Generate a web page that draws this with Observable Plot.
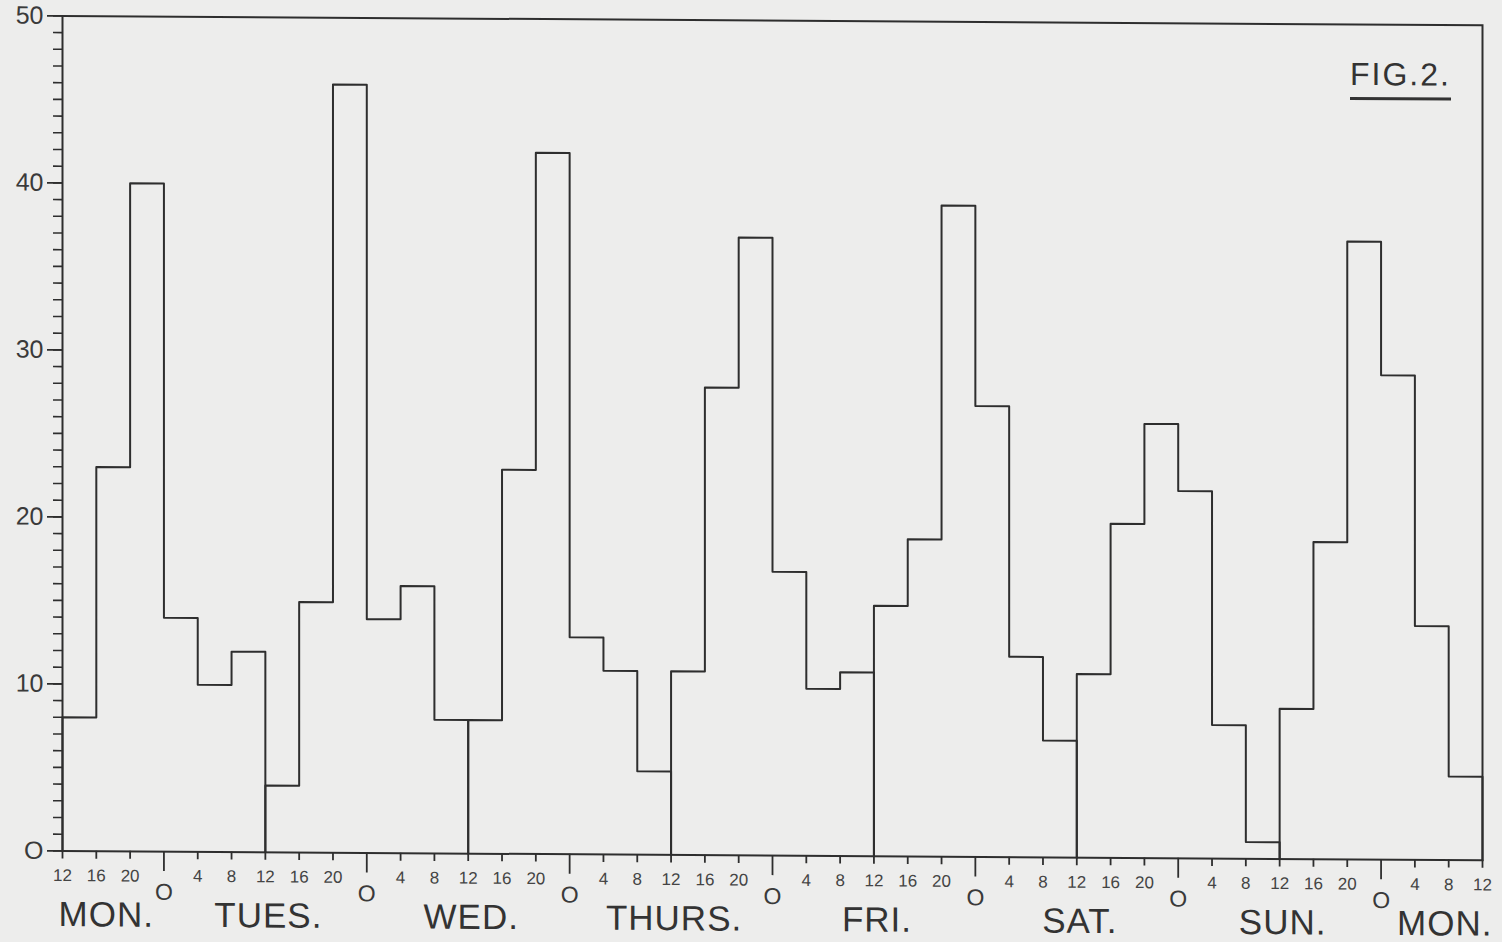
<!DOCTYPE html>
<html>
<head>
<meta charset="utf-8">
<script src="https://cdn.jsdelivr.net/npm/d3@7"></script>
<script src="https://cdn.jsdelivr.net/npm/@observablehq/plot@0.6"></script>
<style>
  html, body { margin: 0; padding: 0; background: #ededec; }
  #wrap { position: relative; width: 1502px; height: 942px; transform: skewY(0.38deg); transform-origin: 0 0; }
  #fig { position: absolute; left: 1350px; top: 48px; font-family: "Liberation Sans", Arial, sans-serif; font-size: 32px; letter-spacing: 2px; color: #333; line-height: 34px; padding-bottom: 6px; border-bottom: 3px solid #333; }
  .day text { letter-spacing: 1px; }
</style>
</head>
<body>
<div id="wrap"><div id="fig">FIG.2.</div></div>
<script>
// Values per 4-hour period, week starting Monday noon
const monday     = [8, 23, 40];              // 12, 16, 20
const tuesday    = [14, 10, 12, 4, 15, 46];  // 0, 4, 8, 12, 16, 20
const wednesday  = [14, 16, 8, 8, 23, 42];
const thursday   = [13, 11, 5, 11, 28, 37];
const friday     = [17, 10, 11, 15, 19, 39];
const saturday   = [27, 12, 7, 11, 20, 26];
const sunday     = [22, 8, 1, 9, 19, 37];
const nextMonday = [29, 14, 5];              // 0, 4, 8

const dayNames = ["MON.", "TUES.", "WED.", "THURS.", "FRI.", "SAT.", "SUN.", "MON."];
const yMajor = [0, 10, 20, 30, 40, 50];
const yMinor = d3.range(0, 51, 1);
const hourTicks = d3.range(0, 169, 4);       // hours since Monday noon

const series = [...monday, ...tuesday, ...wednesday, ...thursday, ...friday, ...saturday, ...sunday, ...nextMonday];

// Each noon-to-noon block is drawn as its own closed outline from the baseline
const pts = [];
for (let k = 0; k < 7; k++) {
  const vals = series.slice(k * 6, k * 6 + 6);
  const s = k * 24;
  pts.push({seg: k, h: s, v: 0});
  vals.forEach((v, j) => pts.push({seg: k, h: s + 4 * j, v}));
  pts.push({seg: k, h: s + 24, v: vals[vals.length - 1]});
  pts.push({seg: k, h: s + 24, v: 0});
}

const clock = h => (12 + h) % 24;
const normalTicks = hourTicks.filter(h => clock(h) !== 0);
const midnightTicks = hourTicks.filter(h => clock(h) === 0);
const dayLabels = dayNames.map((name, i) => ({h: i * 24, name}));

const ink = "#2e2e2e";

const chart = Plot.plot({
  width: 1502,
  height: 942,
  marginTop: 15,
  marginBottom: 92,
  marginLeft: 62,
  marginRight: 20,
  style: {background: "transparent", color: ink, fontFamily: "'Liberation Sans', Arial, sans-serif", overflow: "visible"},
  x: {domain: [0, 168]},
  y: {domain: [0, 50]},
  marks: [
    Plot.axisY({ticks: yMinor, tickSize: 9, tickFormat: () => "", strokeWidth: 1.6, label: null}),
    Plot.axisY({ticks: yMajor, tickSize: 15, tickPadding: 4, fontSize: 25, strokeWidth: 1.8,
                tickFormat: d => d === 0 ? "O" : String(d), label: null, fill: "#3a3a3a"}),
    Plot.axisX({ticks: normalTicks, tickSize: 8, tickPadding: 10, fontSize: 17, strokeWidth: 1.8,
                tickFormat: h => String(clock(h)), label: null, fill: "#444"}),
    Plot.axisX({ticks: midnightTicks, tickSize: 20, tickPadding: 12, fontSize: 23, strokeWidth: 1.8,
                tickFormat: () => "O", label: null, fill: "#3a3a3a"}),
    Plot.frame({stroke: ink, strokeWidth: 2}),
    Plot.line(pts, {x: "h", y: "v", z: "seg", curve: "step-after", stroke: ink, strokeWidth: 2}),
    Plot.text(dayLabels.slice(0, 1), {x: "h", text: "name", frameAnchor: "bottom", dy: 64, dx: -4,
                textAnchor: "start", lineAnchor: "middle", fontSize: 35, fill: "#333", className: "day"}),
    Plot.text(dayLabels.slice(1, 7), {x: "h", text: "name", frameAnchor: "bottom", dy: 64, dx: 3,
                textAnchor: "middle", lineAnchor: "middle", fontSize: 35, fill: "#333", className: "day"}),
    Plot.text(dayLabels.slice(7), {x: "h", text: "name", frameAnchor: "bottom", dy: 64, dx: 10,
                textAnchor: "end", lineAnchor: "middle", fontSize: 35, fill: "#333", className: "day"})
  ]
});
document.getElementById("wrap").prepend(chart);
</script>
</body>
</html>
